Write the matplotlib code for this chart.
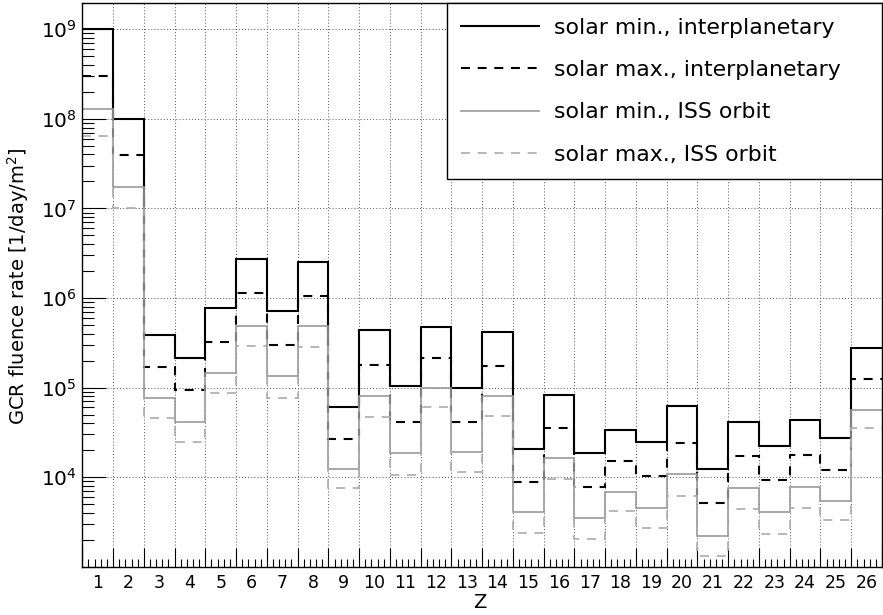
import numpy as np
import matplotlib.pyplot as plt
from matplotlib.ticker import FixedLocator, NullFormatter

plt.rcParams['font.family'] = ['DejaVu Sans']
plt.rcParams['mathtext.fontset'] = 'dejavusans'

# charge number Z of the GCR ions
z = list(range(1, 27))

# fluence rate [1/day/m^2]
min_ip = [1.0e9, 1.0e8, 3.85e5, 2.13e5, 7.7e5, 2.71e6, 7.2e5, 2.55e6, 6.0e4, 4.4e5,
          1.04e5, 4.8e5, 9.8e4, 4.22e5, 2.05e4, 8.3e4, 1.85e4, 3.35e4, 2.48e4, 6.3e4,
          1.24e4, 4.1e4, 2.2e4, 4.36e4, 2.72e4, 2.79e5]
max_ip = [3.0e8, 3.95e7, 1.69e5, 9.3e4, 3.26e5, 1.13e6, 2.97e5, 1.05e6, 2.67e4, 1.79e5,
          4.17e4, 2.16e5, 4.17e4, 1.75e5, 8.9e3, 3.52e4, 7.85e3, 1.52e4, 1.03e4, 2.43e4,
          5.1e3, 1.7e4, 9.2e3, 1.77e4, 1.19e4, 1.24e5]
min_iss = [1.28e8, 1.73e7, 7.7e4, 4.1e4, 1.47e5, 4.92e5, 1.33e5, 4.84e5, 1.24e4, 8.07e4,
           1.88e4, 1.0e5, 1.92e4, 8.15e4, 4.06e3, 1.63e4, 3.48e3, 6.9e3, 4.58e3, 1.09e4,
           2.23e3, 7.5e3, 4.06e3, 7.66e3, 5.43e3, 5.64e4]
max_iss = [6.5e7, 1.0e7, 4.6e4, 2.45e4, 8.66e4, 2.92e5, 7.7e4, 2.85e5, 7.5e3, 4.71e4,
           1.06e4, 6.1e4, 1.15e4, 4.87e4, 2.37e3, 9.6e3, 2.05e3, 4.2e3, 2.7e3, 6.2e3,
           1.3e3, 4.4e3, 2.31e3, 4.5e3, 3.33e3, 3.52e4]

labels = ['solar min., interplanetary', 'solar max., interplanetary',
          'solar min., ISS orbit', 'solar max., ISS orbit']

edges = np.arange(0.5, len(z) + 1, 1.0)

fig = plt.figure(figsize=(8.83, 6.15), dpi=100)
ax = fig.add_axes([82.3 / 883, 1 - 566.7 / 615, 799.7 / 883, 563.4 / 615])

ax.stairs(min_ip, edges, baseline=None, color='black', lw=1.5, label=labels[0])
ax.stairs(max_ip, edges, baseline=None, color='black', lw=1.5,
          linestyle=(0, (4.3, 3.7)), label=labels[1])
ax.stairs(min_iss, edges, baseline=None, color='#999999', lw=1.2, label=labels[2])
ax.stairs(max_iss, edges, baseline=None, color='#ababab', lw=1.2,
          linestyle=(0, (5.4, 4.6)), label=labels[3])

ax.set_yscale('log')
ax.set_ylim(1e3, 1.95e9)
ax.set_xlim(edges[0], edges[-1])

# y axis: decades with ROOT-like inward ticks
ax.yaxis.set_major_locator(FixedLocator([1e3, 1e4, 1e5, 1e6, 1e7, 1e8, 1e9]))
ax.set_yticklabels(['', r'$\mathregular{10^{4}}$', r'$\mathregular{10^{5}}$',
                    r'$\mathregular{10^{6}}$', r'$\mathregular{10^{7}}$',
                    r'$\mathregular{10^{8}}$', r'$\mathregular{10^{9}}$'])
ymin = []
for d in range(3, 10):
    for s in range(2, 10):
        ymin.append(s * 10.0 ** d)
ax.yaxis.set_minor_locator(FixedLocator(ymin))
ax.yaxis.set_minor_formatter(NullFormatter())
ax.tick_params(axis='y', which='major', direction='in', length=17.3, width=0.8,
               labelsize=14.4, pad=4)
ax.tick_params(axis='y', which='minor', direction='in', length=8.6, width=0.8)

# x axis: big ticks at bin edges, small ticks every 0.2
ax.xaxis.set_major_locator(FixedLocator(edges))
ax.xaxis.set_major_formatter(NullFormatter())
xmin = [e + k * 0.2 for e in edges[:-1] for k in range(1, 5)]
ax.xaxis.set_minor_locator(FixedLocator(xmin))
ax.tick_params(axis='x', which='major', direction='in', length=13.7, width=0.8)
ax.tick_params(axis='x', which='minor', direction='in', length=5.8, width=0.8)

sec = ax.secondary_xaxis('bottom')
sec.set_xticks(z, [str(v) for v in z])
sec.tick_params(length=0, labelsize=12.5, pad=5)
sec.spines['bottom'].set_visible(False)

for sp in ax.spines.values():
    sp.set_linewidth(1.0)

ax.grid(True, which='major', color='#666666', lw=0.75, linestyle=(0, (1, 2)))
ax.set_axisbelow(True)

fig.text(480 / 883, 1 - 603 / 615, 'Z', fontsize=14, ha='center', va='center')
fig.text(18 / 883, 1 - 286.7 / 615, 'GCR fluence rate [1/day/m$^{\\mathregular{2}}$]',
         fontsize=14, rotation=90, ha='center', va='center')

leg = ax.legend(loc='upper left', bbox_to_anchor=(0.4557, 0.6965, 0.5443, 0.3035),
                mode='expand', fontsize=15.8, frameon=True, fancybox=False,
                framealpha=1, edgecolor='black', handlelength=3.55,
                handletextpad=0.68, labelspacing=1.015, borderpad=0.66,
                borderaxespad=0)
leg.get_frame().set_linewidth(1.0)

fig.savefig('out.png', dpi=100)
